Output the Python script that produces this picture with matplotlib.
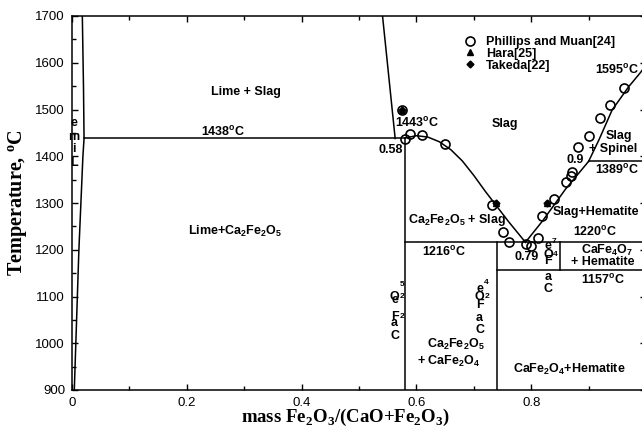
import matplotlib
matplotlib.use("Agg")
import matplotlib.pyplot as plt
from matplotlib.ticker import MultipleLocator, FixedLocator

plt.rcParams["font.family"] = ["Liberation Sans", "DejaVu Sans"]
plt.rcParams["mathtext.fontset"] = "custom"
plt.rcParams["mathtext.rm"] = "Liberation Sans:bold"
plt.rcParams["mathtext.bf"] = "Liberation Sans:bold"
plt.rcParams["mathtext.it"] = "Liberation Sans:bold"
plt.rcParams["mathtext.sf"] = "Liberation Serif:bold"

# ── phase boundaries: (mass fraction Fe2O3, temperature °C) ─────────
lime_x = [0.004, 0.012, 0.019, 0.021, 0.020, 0.018]
lime_t = [900, 1200, 1400, 1438, 1550, 1700]

lime_liq_x = [0.541, 0.563]
lime_liq_t = [1700, 1438]

t_peritectic = 1438
x_peritectic = 0.58
t_eutectic = 1216
x_eutectic = 0.79
x_cf = 0.74            # CaFe2O4 composition line
x_cf2 = 0.85           # CaFe4O7 composition line
t_cf2 = 1157
x_spinel = 0.90
t_spinel = 1389

c2f_liq_x = [0.58, 0.60, 0.62, 0.64, 0.66, 0.68, 0.70, 0.72, 0.74, 0.76, 0.79]
c2f_liq_t = [1439, 1444, 1441, 1431, 1414, 1390, 1359, 1325, 1293, 1261, 1216]

hem_liq_x = [0.79, 0.82, 0.86, 0.90]
hem_liq_t = [1216, 1262, 1330, 1389]

sp_liq_x = [0.90, 0.918, 0.941, 0.970, 0.991, 1.0]
sp_liq_t = [1389, 1435, 1499, 1549, 1580, 1595]

# ── experimental points ─────────────────────────────────────────────
phillips_x = [0.575, 0.581, 0.589, 0.610, 0.650, 0.731, 0.750, 0.761, 0.791,
              0.800, 0.811, 0.818, 0.840, 0.860, 0.869, 0.871, 0.881, 0.900,
              0.919, 0.938, 0.961]
phillips_t = [1500, 1436, 1447, 1445, 1426, 1295, 1239, 1216, 1213,
              1207, 1226, 1273, 1308, 1345, 1358, 1366, 1419, 1443,
              1481, 1510, 1545]
hara_x = [0.575, 0.739, 0.828]
hara_t = [1500, 1300, 1301]
takeda_x = [0.575, 0.739, 0.828]
takeda_t = [1500, 1300, 1301]

# ── region and temperature labels ───────────────────────────────────
labels = [
    ("Lime + Slag", 0.303, 1537, "center"),
    ("1438$^{o}$C", 0.263, 1452, "center"),
    ("Lime+Ca$_{2}$Fe$_{2}$O$_{5}$", 0.285, 1239, "center"),
    ("1443$^{o}$C", 0.602, 1472, "center"),
    ("0.58", 0.555, 1413, "center"),
    ("Slag", 0.754, 1469, "center"),
    ("Ca$_{2}$Fe$_{2}$O$_{5}$ + Slag", 0.670, 1264, "center"),
    ("1216$^{o}$C", 0.649, 1196, "center"),
    ("Ca$_{2}$Fe$_{2}$O$_{5}$", 0.668, 998, "center"),
    ("+ CaFe$_{2}$O$_{4}$", 0.657, 961, "center"),
    ("CaFe$_{2}$O$_{4}$+Hematite", 0.866, 944, "center"),
    ("0.79", 0.792, 1184, "center"),
    ("1220$^{o}$C", 0.911, 1239, "center"),
    ("CaFe$_{4}$O$_{7}$", 0.932, 1198, "center"),
    ("+ Hematite", 0.925, 1174, "center"),
    ("1157$^{o}$C", 0.925, 1135, "center"),
    ("Slag+Hematite", 0.838, 1280, "left"),
    ("Slag", 0.929, 1443, "left"),
    ("+ Spinel", 0.900, 1415, "left"),
    ("0.9", 0.877, 1393, "center"),
    ("1389$^{o}$C", 0.912, 1371, "left"),
    ("1595$^{o}$C", 0.911, 1585, "left"),
]

# vertical compound names, one glyph above the next
stacked = [
    ("L", 0.003, 1385, 9), ("i", 0.003, 1415, 9), ("m", 0.003, 1442, 9), ("e", 0.003, 1472, 9),
    ("C", 0.562, 1016, 9), ("a", 0.562, 1044, 9), ("F", 0.562, 1056, 9), ("2", 0.575, 1058, 6),
    ("e", 0.562, 1092, 9), ("O", 0.562, 1099, 9), ("2", 0.575, 1101, 6), ("5", 0.575, 1126, 6),
    ("C", 0.710, 1028, 9), ("a", 0.710, 1054, 9), ("F", 0.710, 1082, 9), ("O", 0.710, 1098, 9),
    ("2", 0.723, 1099, 6), ("e", 0.710, 1115, 9), ("4", 0.722, 1130, 6),
    ("C", 0.830, 1116, 9), ("a", 0.830, 1142, 9), ("F", 0.830, 1175, 9), ("O", 0.830, 1189, 9),
    ("4", 0.842, 1190, 6), ("e", 0.830, 1207, 9), ("7", 0.840, 1218, 6),
]

fig = plt.figure(figsize=(6.42, 4.28), dpi=100)
ax = fig.add_axes([72 / 642, 38 / 428, 574 / 642, 374 / 428])

lw = 1.1
ax.plot(lime_x, lime_t, color="black", lw=lw)
ax.plot(lime_liq_x, lime_liq_t, color="black", lw=lw)
ax.plot([lime_x[3], x_peritectic], [t_peritectic, t_peritectic], color="black", lw=lw)
ax.plot([x_peritectic, x_peritectic], [900, t_peritectic], color="black", lw=lw)
ax.plot(c2f_liq_x, c2f_liq_t, color="black", lw=lw)
ax.plot(hem_liq_x, hem_liq_t, color="black", lw=lw)
ax.plot(sp_liq_x, sp_liq_t, color="black", lw=lw)
ax.plot([x_peritectic, 1.0], [t_eutectic, t_eutectic], color="black", lw=lw)
ax.plot([x_cf, x_cf], [900, t_eutectic], color="black", lw=lw)
ax.plot([x_cf, 1.0], [t_cf2, t_cf2], color="black", lw=lw)
ax.plot([x_cf2, x_cf2], [t_cf2, t_eutectic], color="black", lw=lw)
ax.plot([x_spinel, 1.0], [t_spinel, t_spinel], color="black", lw=lw)

ax.plot(phillips_x, phillips_t, "o", mfc="none", mec="black", ms=6.5, mew=1.2,
        ls="none", label="Phillips and Muan[24]", zorder=3)
ax.plot(hara_x, hara_t, "^", color="black", ms=4.5, ls="none",
        label="Hara[25]", zorder=4)
ax.plot(takeda_x, takeda_t, "D", color="black", ms=3.5, ls="none",
        label="Takeda[22]", zorder=5)

for txt, x, t, ha in labels:
    ax.text(x, t, txt, ha=ha, va="center", fontsize=9, fontweight="bold")
for ch, x, t, size in stacked:
    ax.text(x, t, ch, ha="center", va="center", fontsize=size, fontweight="bold")

ax.legend(loc="upper left", bbox_to_anchor=(0.678, 0.953), frameon=False,
          prop={"weight": "bold", "size": 9},
          handlelength=1.0, handletextpad=0.8, labelspacing=-0.02,
          borderpad=0.2, borderaxespad=0)

ax.set_xlim(0, 1)
ax.set_ylim(900, 1700)
ax.xaxis.set_major_locator(FixedLocator([0, 0.2, 0.4, 0.6, 0.8, 1.0]))
ax.set_xticklabels(["0", "0.2", "0.4", "0.6", "0.8", ""])
ax.xaxis.set_minor_locator(MultipleLocator(0.1))
ax.yaxis.set_major_locator(MultipleLocator(100))
ax.yaxis.set_minor_locator(MultipleLocator(50))
ax.tick_params(which="both", direction="in", top=True, right=True,
               labelsize=9.5, pad=5, width=1.0)
ax.tick_params(which="major", length=4)
ax.tick_params(which="minor", length=3)
for spine in ax.spines.values():
    spine.set_linewidth(1.1)

ax.set_xlabel(r"mass Fe$_\mathsf{2}$O$_\mathsf{3}$/(CaO+Fe$_\mathsf{2}$O$_\mathsf{3}$)",
              family="Liberation Serif", fontweight="bold", fontsize=13.5)
ax.xaxis.set_label_coords(0.477, -0.045)
ax.set_ylabel(r"Temperature, $^\mathsf{o}$C", family="Liberation Serif",
              fontweight="bold", fontsize=14.5)
ax.yaxis.set_label_coords(-0.073, 0.5)

fig.savefig("out.png", dpi=100)
